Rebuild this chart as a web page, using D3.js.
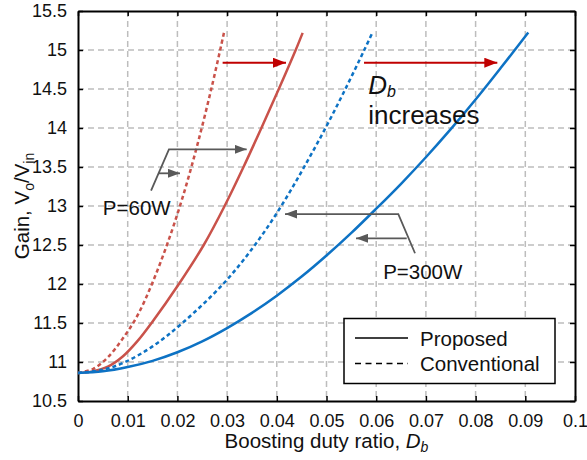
<!DOCTYPE html>
<html>
<head>
<meta charset="utf-8">
<script src="https://cdn.jsdelivr.net/npm/d3@7"></script>
<style>
  html, body { margin: 0; padding: 0; background: #fff; }
  svg { display: block; font-family: "Liberation Sans", Arial, sans-serif; }
</style>
</head>
<body>
<svg id="chart" width="587" height="460"></svg>
<script>
// ---------- data ----------
const xTicks = [0, 0.01, 0.02, 0.03, 0.04, 0.05, 0.06, 0.07, 0.08, 0.09, 0.1];
const xTickLabels = ["0", "0.01", "0.02", "0.03", "0.04", "0.05", "0.06", "0.07", "0.08", "0.09", "0.1"];
const yTicks = [10.5, 11, 11.5, 12, 12.5, 13, 13.5, 14, 14.5, 15, 15.5];
const yTickLabels = ["10.5", "11", "11.5", "12", "12.5", "13", "13.5", "14", "14.5", "15", "15.5"];

// Conventional, P = 60 W (red dashed)
const conv60D = [0, 0.003, 0.006, 0.009, 0.012, 0.015, 0.018, 0.021, 0.024, 0.027, 0.0294];
const conv60G = [10.86, 10.91, 11.06, 11.3, 11.6, 12.02, 12.52, 13.1, 13.78, 14.55, 15.23];
// Proposed, P = 60 W (red solid)
const prop60D = [0, 0.003, 0.006, 0.009, 0.012, 0.0148, 0.0203, 0.0253, 0.0295, 0.0333, 0.0369, 0.0404, 0.0438, 0.0452];
const prop60G = [10.86, 10.88, 10.94, 11.07, 11.27, 11.5, 12.0, 12.5, 13.0, 13.5, 14.0, 14.5, 15.0, 15.22];
// Conventional, P = 300 W (blue dashed)
const conv300D = [0, 0.005, 0.0095, 0.015, 0.021, 0.0292, 0.0356, 0.0409, 0.0455, 0.0498, 0.0538, 0.0576, 0.0593];
const conv300G = [10.86, 10.9, 11.0, 11.2, 11.5, 12.0, 12.5, 13.0, 13.5, 14.0, 14.5, 15.0, 15.23];
// Proposed, P = 300 W (blue solid)
const prop300D = [0, 0.005, 0.01, 0.015, 0.02, 0.025, 0.03, 0.035, 0.04, 0.045, 0.05, 0.055, 0.06, 0.065, 0.07, 0.075, 0.08, 0.085, 0.0906];
const prop300G = [10.86, 10.88, 10.935, 11.015, 11.125, 11.265, 11.435, 11.63, 11.85, 12.095, 12.365, 12.655, 12.965, 13.285, 13.625, 13.985, 14.365, 14.765, 15.224];

const seriesNames = ["Proposed", "Conventional"];

// ---------- layout ----------
const svg = d3.select("#chart");
const L = 78, R = 575, T = 11, B = 401;
const x = d3.scaleLinear().domain([0, 0.1]).range([L, R]);
const y = d3.scaleLinear().domain([10.5, 15.5]).range([B, T]);

const RED = "#c9524a", BLUE = "#0d72c4", ARROW_RED = "#c00000", GRAY = "#595959";

// grid
const grid = svg.append("g");
grid.selectAll("line.gx").data(xTicks.slice(1, -1)).join("line")
  .attr("x1", d => x(d)).attr("x2", d => x(d)).attr("y1", T).attr("y2", B)
  .attr("stroke", "#bdbdbd").attr("stroke-width", 1.5).attr("stroke-dasharray", "6,4");
grid.selectAll("line.gy").data(yTicks.slice(1, -1)).join("line")
  .attr("y1", d => y(d)).attr("y2", d => y(d)).attr("x1", L).attr("x2", R)
  .attr("stroke", "#bdbdbd").attr("stroke-width", 1.5).attr("stroke-dasharray", "6,4");

// axes
const fmtX = d => xTickLabels[xTicks.indexOf(d)];
const fmtY = d => yTickLabels[yTicks.indexOf(d)];
const axB = svg.append("g").attr("transform", `translate(0,${B})`)
  .call(d3.axisBottom(x).tickValues(xTicks).tickFormat(fmtX).tickSizeInner(-5).tickSizeOuter(0).tickPadding(13));
const axT = svg.append("g").attr("transform", `translate(0,${T})`)
  .call(d3.axisTop(x).tickValues(xTicks).tickFormat("").tickSizeInner(-5).tickSizeOuter(0));
const axL = svg.append("g").attr("transform", `translate(${L},0)`)
  .call(d3.axisLeft(y).tickValues(yTicks).tickFormat(fmtY).tickSizeInner(-5).tickSizeOuter(0).tickPadding(11));
const axR = svg.append("g").attr("transform", `translate(${R},0)`)
  .call(d3.axisRight(y).tickValues(yTicks).tickFormat("").tickSizeInner(-5).tickSizeOuter(0));
[axB, axT, axL, axR].forEach(a => {
  a.select(".domain").attr("stroke", "#000").attr("stroke-width", 2);
  a.selectAll(".tick line").attr("stroke", "#000").attr("stroke-width", 1.5);
  a.selectAll(".tick text").attr("fill", "#111").style("font-size", "18px").style("font-family", "Liberation Sans, Arial, sans-serif");
});

// curves
const mk = (D, G) => D.map((d, i) => [d, G[i]]);
const line = d3.line().x(d => x(d[0])).y(d => y(d[1])).curve(d3.curveCatmullRom.alpha(0.5));
const curves = [
  { pts: mk(conv60D, conv60G), color: RED, dash: "4,3" },
  { pts: mk(prop60D, prop60G), color: RED, dash: null },
  { pts: mk(conv300D, conv300G), color: BLUE, dash: "4,3" },
  { pts: mk(prop300D, prop300G), color: BLUE, dash: null }
];
svg.append("g").selectAll("path").data(curves).join("path")
  .attr("d", d => line(d.pts)).attr("fill", "none")
  .attr("stroke", d => d.color).attr("stroke-width", 2.5)
  .attr("stroke-dasharray", d => d.dash);

// arrow markers
const defs = svg.append("defs");
function marker(id, color, w, h) {
  defs.append("marker").attr("id", id).attr("viewBox", `0 0 ${w} ${h}`)
    .attr("refX", w).attr("refY", h / 2).attr("markerWidth", w).attr("markerHeight", h)
    .attr("markerUnits", "userSpaceOnUse").attr("orient", "auto")
    .append("path").attr("d", `M0,0L${w},${h / 2}L0,${h}Z`).attr("fill", color);
}
marker("ahRed", ARROW_RED, 13, 10);
marker("ahGray", GRAY, 12, 9);

const redArrows = [
  [[0.0291, 14.837], [0.04185, 14.837]],
  [[0.05755, 14.837], [0.08437, 14.837]]
];
const grayArrows = [
  [[0.0147, 13.196], [0.0183, 13.727], [0.03394, 13.727]],
  [[0.01616, 13.419], [0.02052, 13.419]],
  [[0.06781, 12.394], [0.06445, 12.897], [0.04165, 12.897]],
  [[0.06614, 12.586], [0.05594, 12.586]]
];
const pl = d3.line().x(d => x(d[0])).y(d => y(d[1]));
svg.append("g").selectAll("path").data(redArrows).join("path")
  .attr("d", pl).attr("fill", "none").attr("stroke", ARROW_RED).attr("stroke-width", 2)
  .attr("marker-end", "url(#ahRed)");
svg.append("g").selectAll("path").data(grayArrows).join("path")
  .attr("d", pl).attr("fill", "none").attr("stroke", GRAY).attr("stroke-width", 1.8)
  .attr("marker-end", "url(#ahGray)");

// annotation text
const ann = svg.append("g").attr("fill", "#111");
const db = ann.append("text").attr("x", x(0.0584)).attr("y", y(14.44)).style("font-size", "26px");
db.append("tspan").text("D").style("font-style", "italic");
db.append("tspan").text("b").style("font-style", "italic").style("font-size", "16px").attr("dy", 3);
ann.append("text").attr("x", x(0.0584)).attr("y", y(14.05)).style("font-size", "26px").text("increases");
ann.append("text").attr("x", x(0.0050)).attr("y", y(12.885)).style("font-size", "20.5px").text("P=60W");
ann.append("text").attr("x", x(0.0614)).attr("y", y(12.06)).style("font-size", "20.5px").text("P=300W");

// legend
const lg = svg.append("g");
lg.append("rect").attr("x", 344).attr("y", 318.5).attr("width", 211).attr("height", 65)
  .attr("fill", "#fff").attr("stroke", "#000").attr("stroke-width", 1.5);
const legendRows = [
  { name: seriesNames[0], dash: null, yy: 338 },
  { name: seriesNames[1], dash: "6,4.5", yy: 363.5 }
];
legendRows.forEach(r => {
  lg.append("line").attr("x1", 355).attr("x2", 408).attr("y1", r.yy).attr("y2", r.yy)
    .attr("stroke", "#000").attr("stroke-width", 1.5).attr("stroke-dasharray", r.dash);
  lg.append("text").attr("x", 420).attr("y", r.yy + 7.5).attr("fill", "#111")
    .style("font-size", "20.5px").text(r.name);
});

// axis labels
const xl = svg.append("text").attr("x", (L + R) / 2).attr("y", 448).attr("text-anchor", "middle")
  .attr("fill", "#111").style("font-size", "20.5px");
xl.append("tspan").text("Boosting duty ratio, ");
xl.append("tspan").text("D").style("font-style", "italic");
xl.append("tspan").text("b").style("font-style", "italic").style("font-size", "14px").attr("dy", 4);

const yl = svg.append("text").attr("transform", `translate(29,${(T + B) / 2}) rotate(-90)`)
  .attr("text-anchor", "middle").attr("fill", "#111").style("font-size", "20.5px");
yl.append("tspan").text("Gain, V");
yl.append("tspan").text("o").style("font-size", "14px").attr("dy", 5);
yl.append("tspan").text("/V").attr("dy", -5);
yl.append("tspan").text("in").style("font-size", "14px").attr("dy", 5);
</script>
</body>
</html>
